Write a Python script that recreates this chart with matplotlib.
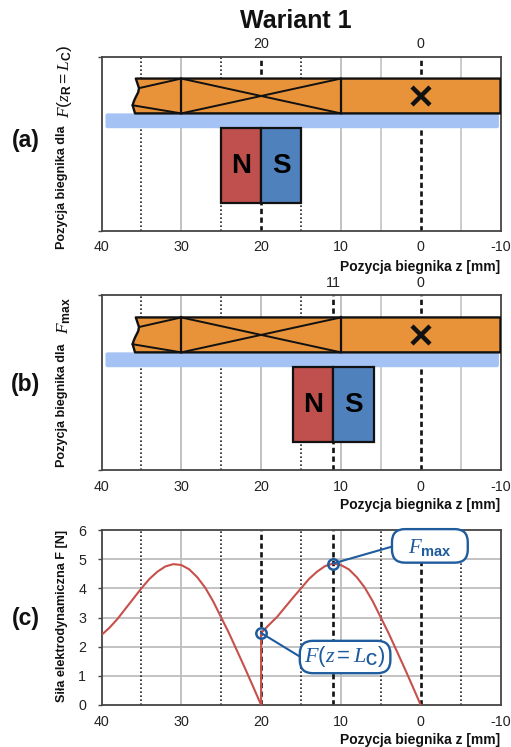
import matplotlib
matplotlib.use('Agg')
import matplotlib.pyplot as plt
from matplotlib.patches import FancyBboxPatch, Polygon, Rectangle
from matplotlib.transforms import IdentityTransform

plt.rcParams['font.family'] = ['Liberation Sans', 'DejaVu Sans']
plt.rcParams['axes.unicode_minus'] = False
plt.rcParams['mathtext.fontset'] = 'custom'
plt.rcParams['mathtext.rm'] = 'Liberation Sans'
plt.rcParams['mathtext.it'] = 'Liberation Serif:italic'
plt.rcParams['mathtext.bf'] = 'Liberation Sans:bold'

W, H = 511, 747

# data
x_ticks = [40, 30, 20, 10, 0, -10]
y_ticks_c = [0, 1, 2, 3, 4, 5, 6]
z_left = [40, 39, 38, 37, 36, 35, 34, 33, 32, 31, 30, 29, 28, 27, 26, 25, 24, 23, 22, 21, 20]
f_left = [2.4, 2.65, 2.95, 3.3, 3.65, 4.0, 4.32, 4.57, 4.75, 4.83, 4.8, 4.65, 4.38, 4.02, 3.55, 3.0, 2.45, 1.85, 1.25, 0.63, 0]
z_right = [20, 20, 19, 18, 17, 16, 15, 14, 13, 12, 11, 10, 9, 8, 7, 6, 5, 4, 3, 2, 1, 0]
f_right = [0, 2.47, 2.75, 3.02, 3.35, 3.68, 4.0, 4.32, 4.57, 4.76, 4.85, 4.8, 4.65, 4.38, 4.02, 3.55, 3.0, 2.45, 1.85, 1.25, 0.63, 0]
z_lc, f_lc = 20, 2.47
z_max, f_max = 11, 4.85

coil_top, coil_bot, band_bot, magnet_bot = 5.24, 4.04, 3.53, 0.95
coil_edge_z = [35.7, 35.3, 35.4, 35.8, 35.98, 36.1, 35.8]
coil_edge_y = [5.24, 4.91, 4.77, 4.55, 4.43, 4.32, 4.04]

C_COIL = '#e8923a'
C_BAND = '#a4c2f4'
C_N = '#c0504d'
C_S = '#4f81bd'
C_LINE = '#c8504b'
C_CALL = '#1f5c9e'
C_DARK = '#111111'
C_GRID = '#bdbdbd'


def add_axes(top, bottom):
    ax = fig.add_axes([101.5 / W, 1 - bottom / H, 399 / W, (bottom - top) / H])
    ax.set_xlim(40, -10)
    ax.set_ylim(0, 6)
    ax.set_xticks(x_ticks)
    ax.tick_params(axis='x', length=0, labelsize=10.3, pad=7, colors='#222222')
    ax.tick_params(axis='y', length=3, width=1, labelsize=10.3, pad=8, color='#444444', labelcolor='#222222')
    for s in ax.spines.values():
        s.set_color('#444444')
        s.set_linewidth(1.3)
    return ax


def rounded(ax, z0, z1, y0, y1, radius, **kw):
    # corners go through the axes scales, the rounding stays in pixels
    x0, y0 = ax.transData.transform((z0, y0))
    x1, y1 = ax.transData.transform((z1, y1))
    box = FancyBboxPatch((x0, y0), x1 - x0, y1 - y0, boxstyle='round,pad=0,rounding_size=%s' % radius,
                         transform=IdentityTransform(), clip_on=False, **kw)
    ax.add_patch(box)


def vlines(ax, solid, light, dotted, dashed):
    for v in solid:
        ax.axvline(v, color=C_GRID, lw=1.3, zorder=1)
    for v in light:
        ax.axvline(v, color='#c8c8c8', lw=1.3, zorder=1)
    for v in dotted:
        ax.axvline(v, color='#222222', lw=1.2, ls=(0, (1, 1.4)), zorder=1.5)
    for v in dashed:
        ax.axvline(v, color=C_DARK, lw=1.9, ls=(0, (2, 1.3)), zorder=1.6)


def coil_panel(ax, n_left, mid, s_right, top_ticks):
    ax.set_yticks([0, 6])
    ax.set_yticklabels(['', ''])
    # coil with the broken left edge
    outline = list(zip(coil_edge_z, coil_edge_y)) + [(-10, coil_bot), (-10, coil_top)]
    ax.add_patch(Polygon(outline, closed=True, fc=C_COIL, ec=C_DARK, lw=1.7, zorder=3, joinstyle='round'))
    ax.plot([30, 30], [coil_bot, coil_top], color=C_DARK, lw=1.6, zorder=4)
    ax.plot([10, 10], [coil_bot, coil_top], color=C_DARK, lw=1.6, zorder=4)
    ax.plot([30, 10], [coil_top, coil_bot], color=C_DARK, lw=1.4, zorder=4)
    ax.plot([30, 10], [coil_bot, coil_top], color=C_DARK, lw=1.4, zorder=4)
    ax.plot([30, coil_edge_z[1]], [coil_top, coil_edge_y[1]], color=C_DARK, lw=1.4, zorder=4)
    ax.plot([30, coil_edge_z[5]], [coil_bot, coil_edge_y[5]], color=C_DARK, lw=1.4, zorder=4)
    ax.plot([0], [(coil_top + coil_bot) / 2], marker='x', ms=13, mew=3.2, color=C_DARK, zorder=5)
    # iron band
    rounded(ax, 39.5, -9.8, band_bot, coil_bot, 2, fc=C_BAND, ec='none', zorder=2.5)
    # magnet
    ax.add_patch(Rectangle((mid, magnet_bot), n_left - mid, band_bot - magnet_bot, fc=C_N, ec=C_DARK, lw=1.6, zorder=3))
    ax.add_patch(Rectangle((s_right, magnet_bot), mid - s_right, band_bot - magnet_bot, fc=C_S, ec=C_DARK, lw=1.6, zorder=3))
    y_mid = (band_bot + magnet_bot) / 2
    ax.text((n_left + mid) / 2, y_mid, 'N', fontsize=20, fontweight='bold', ha='center', va='center', color='black', zorder=5)
    ax.text((mid + s_right) / 2, y_mid, 'S', fontsize=20, fontweight='bold', ha='center', va='center', color='black', zorder=5)
    top = ax.twiny()
    top.set_xlim(ax.get_xlim())
    top.set_xticks(top_ticks)
    top.tick_params(axis='x', length=0, labelsize=10.3, pad=4, colors='#222222')
    for s in top.spines.values():
        s.set_visible(False)


def xlabel(y):
    fig.text(500 / W, 1 - y / H, 'Pozycja biegnika z [mm]', fontsize=10, fontweight='bold',
             ha='right', va='center', color='#111111')


def ylabel(y, txt, size=9.1, x=62):
    fig.text(x / W, 1 - y / H, txt, fontsize=size, fontweight='bold', rotation=90,
             ha='center', va='center', color='#111111')


def panel_tag(y, txt):
    fig.text(26 / W, 1 - y / H, txt, fontsize=16.5, fontweight='bold', ha='center', va='center', color='#111111')


fig = plt.figure(figsize=(W / 100, H / 100), dpi=100)
fig.text(296 / W, 1 - 21 / H, 'Wariant 1', fontsize=18, fontweight='bold', ha='center', va='center', color='#111111')

# (a)
ax_a = add_axes(56.5, 230.7)
vlines(ax_a, [30, 10], [5, -5], [35, 25, 15], [20, 0])
coil_panel(ax_a, 25, 20, 15, [20, 0])
xlabel(267)
ylabel(187, 'Pozycja biegnika dla')
ylabel(81, r'$\mathit{F}(\mathit{z}_{\mathbf{R}}=\mathit{L}_{\mathbf{C}})$', size=12.5, x=64)
panel_tag(141, '(a)')

# (b)
ax_b = add_axes(295.3, 470)
vlines(ax_b, [30, 20, 10], [5, -5], [35, 25, 15], [11, 0])
coil_panel(ax_b, 16, 11, 5.8, [11, 0])
xlabel(505)
ylabel(405, 'Pozycja biegnika dla')
ylabel(316, r'$\mathit{F}_{\mathbf{max}}$', size=12.5, x=64)
panel_tag(385, '(b)')

# (c)
ax_c = add_axes(530, 705)
ax_c.set_yticks(y_ticks_c)
for v in y_ticks_c[1:-1]:
    ax_c.axhline(v, color=C_GRID, lw=1.3, zorder=1)
vlines(ax_c, [30, 10], [], [35, 25, 15, 5, -5], [20, 11, 0])
ax_c.plot(z_left, f_left, color=C_LINE, lw=1.5, zorder=3)
ax_c.plot(z_right, f_right, color=C_LINE, lw=1.5, zorder=3)

ax_c.plot([z_lc, 15.15], [f_lc, 1.66], color=C_CALL, lw=1.5, zorder=4)
ax_c.plot([z_max, 3.6], [f_max, 5.43], color=C_CALL, lw=1.5, zorder=4)
ax_c.plot([z_lc, z_max], [f_lc, f_max], ls='none', marker='o', ms=7.5, mfc='none', mec=C_CALL, mew=1.8, zorder=5)

rounded(ax_c, 15.15, 3.8, 1.09, 2.2, 13, fc='white', ec=C_CALL, lw=1.7, zorder=6)
rounded(ax_c, 3.6, -5.9, 4.88, 6.03, 13, fc='white', ec=C_CALL, lw=1.7, zorder=6)
ax_c.text(9.5, 1.65, r'$\mathit{F}(\mathit{z}=\mathit{L}_{\mathbf{C}})$', fontsize=16, color=C_CALL,
          ha='center', va='center', zorder=7)
ax_c.text(-1.15, 5.39, r'$\mathit{F}_{\mathbf{max}}$', fontsize=15, color=C_CALL, ha='center', va='center', zorder=7)

xlabel(740)
ylabel(616, 'Siła elektrodynamiczna F [N]')
panel_tag(618, '(c)')

fig.savefig('out.png', dpi=100)
